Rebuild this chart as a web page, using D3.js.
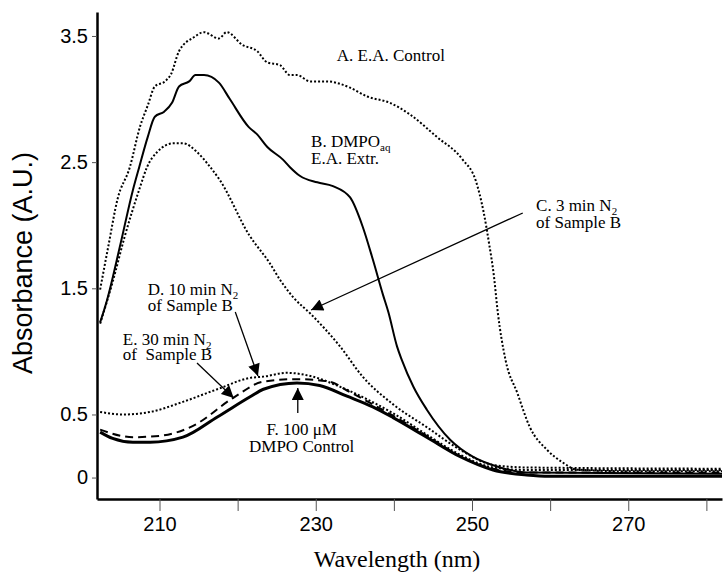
<!DOCTYPE html>
<html><head><meta charset="utf-8">
<script src="https://cdn.jsdelivr.net/npm/d3@7"></script>
<style>body{margin:0;background:#fff} svg{display:block}</style>
</head><body>
<svg id="chart" width="727" height="577"></svg>
<script>
// ---------- data ----------
const xTickLabels = [210, 230, 250, 270];
const yTickLabels = [0, 0.5, 1.5, 2.5, 3.5];

const curveA_nm  = [202.4,203.5,204.6,206.2,207.5,208.5,209.4,210.7,211.5,212.5,214.4,215.7,217.6,218.6,220.6,222.5,223.8,225.4,226.7,227.6,229.3,231.4,234.4,236.6,239.5,242,245.5,248.8,250.5,251.5,252.2,252.8,253.3,254.3,255.8,257.4,259.6,261.6,263.4,270,282];
const curveA_abs = [1.49,1.85,2.2,2.46,2.78,2.95,3.10,3.14,3.2,3.38,3.49,3.53,3.48,3.53,3.43,3.38,3.29,3.27,3.19,3.19,3.14,3.14,3.09,3.02,2.97,2.88,2.70,2.52,2.35,2.1,1.85,1.6,1.31,0.93,0.67,0.40,0.22,0.12,0.063,0.05,0.05];

const curveB_nm  = [202.4,203.3,205,206.6,207.4,208.5,209.4,210.6,211.6,212.5,213.8,214.6,215.7,217.6,219,221.4,222.5,223.8,225.8,226.7,228,230.2,232.2,234.4,236,237.3,238.6,239.3,240.4,241,242.5,244.2,247.2,250.1,253.6,257,282];
const curveB_abs = [1.23,1.41,1.85,2.28,2.46,2.7,2.86,2.90,2.97,3.10,3.14,3.19,3.19,3.13,3.0,2.78,2.72,2.62,2.52,2.46,2.39,2.34,2.31,2.22,1.99,1.73,1.45,1.31,1.04,0.935,0.72,0.54,0.30,0.165,0.08,0.04,0.03];

const curveC_nm  = [202.4,204,205.5,207.5,208.4,209.7,211.8,213,214.8,216.5,217.7,221.5,224.1,225.4,227.1,229.3,233.1,236,239.9,244.2,248.5,252.7,257,282];
const curveC_abs = [1.22,1.55,1.9,2.3,2.46,2.58,2.65,2.65,2.58,2.46,2.36,1.92,1.70,1.57,1.43,1.30,1.04,0.80,0.58,0.40,0.22,0.10,0.08,0.07];

const curveD_nm  = [202.4,205.3,208.8,213,217.4,221.6,223.3,226.3,229.6,233.1,236.9,239.9,244.2,248.5,252.7,257,282];
const curveD_abs = [0.52,0.50,0.52,0.60,0.70,0.79,0.80,0.83,0.80,0.72,0.61,0.51,0.34,0.18,0.08,0.06,0.06];

const curveE_nm  = [202.4,206.6,210,214.3,219.4,223.3,227.6,231.8,234,237.3,239.9,244.2,248.5,252.7,257,282];
const curveE_abs = [0.38,0.32,0.33,0.41,0.63,0.76,0.78,0.76,0.69,0.58,0.49,0.33,0.17,0.07,0.04,0.04];

const curveF_nm  = [202.4,204,206.6,208.8,213,217.4,221.6,223.3,227.6,230.5,234,237.3,239.9,244.2,248.5,252.7,257,260,282];
const curveF_abs = [0.36,0.31,0.28,0.28,0.32,0.48,0.64,0.70,0.75,0.73,0.645,0.56,0.475,0.32,0.165,0.06,0.02,0.01,0.01];

// annotation anchors (data coordinates: wavelength, absorbance)
const arrowTails = [[256.5,2.097],[219.7,1.312],[214.8,0.908],[227.7,0.512]];
const arrowTips  = [[229.4,1.328],[222.6,0.805],[219.5,0.631],[227.7,0.71]];

// ---------- chart ----------
const svg = d3.select("#chart");
const x = d3.scaleLinear().domain([202, 282]).range([97, 722]);
const y = d3.scaleLinear().domain([-0.17, 3.69]).range([499, 12]);

const sans = "'Liberation Sans', Arial, sans-serif";
const serif = "'Liberation Serif', 'Times New Roman', serif";

// x axis
const gx = svg.append("g").attr("transform", "translate(0,499)");
gx.call(d3.axisBottom(x).tickValues(d3.range(202, 283, 2)).tickSize(6).tickSizeOuter(0).tickFormat(""));
gx.call(d3.axisBottom(x).tickValues(d3.range(210, 281, 10)).tickSize(12).tickSizeOuter(0).tickPadding(6)
  .tickFormat(d => xTickLabels.includes(d) ? d : ""));
gx.selectAll(".domain").attr("stroke-width", 2.5);
gx.selectAll(".tick line").attr("stroke", "#555");
gx.selectAll("text").attr("font-family", sans).attr("font-size", 20).attr("fill", "#000");

// y axis
const gy = svg.append("g").attr("transform", "translate(97,0)");
gy.call(d3.axisLeft(y).tickValues(d3.range(0, 3.6, 0.25)).tickSize(5).tickSizeOuter(0).tickFormat(""));
gy.call(d3.axisLeft(y).tickValues(yTickLabels).tickSize(5).tickSizeOuter(0).tickPadding(4)
  .tickFormat(d => d === 0 ? "0" : d3.format(".1f")(d)));
gy.selectAll(".domain").attr("stroke-width", 2.5);
gy.selectAll(".tick line").attr("stroke", "#555");
gy.selectAll("text").attr("font-family", sans).attr("font-size", 20).attr("fill", "#000");

// axis titles
svg.append("text").attr("transform", "translate(32,263) rotate(-90)")
  .attr("text-anchor", "middle").attr("font-family", sans).attr("font-size", 27).text("Absorbance (A.U.)");
svg.append("text").attr("x", 397).attr("y", 567).attr("text-anchor", "middle")
  .attr("font-family", serif).attr("font-size", 24).text("Wavelength (nm)");

// curves
const series = [
  {nm: curveA_nm, abs: curveA_abs, width: 2, dash: "2,2"},
  {nm: curveB_nm, abs: curveB_abs, width: 2, dash: null},
  {nm: curveC_nm, abs: curveC_abs, width: 2, dash: "2,2"},
  {nm: curveD_nm, abs: curveD_abs, width: 2, dash: "2,2"},
  {nm: curveE_nm, abs: curveE_abs, width: 2, dash: "8,5"},
  {nm: curveF_nm, abs: curveF_abs, width: 3, dash: null}
];
const line = d3.line().x(d => x(d[0])).y(d => y(d[1])).curve(d3.curveMonotoneX);
series.forEach(s => {
  svg.append("path").datum(d3.zip(s.nm, s.abs)).attr("d", line)
    .attr("fill", "none").attr("stroke", "#000").attr("stroke-width", s.width)
    .attr("stroke-dasharray", s.dash);
});

// arrows
svg.append("defs").append("marker").attr("id", "ah").attr("viewBox", "0 0 10 10")
  .attr("refX", 10).attr("refY", 5).attr("markerUnits", "userSpaceOnUse")
  .attr("markerWidth", 16).attr("markerHeight", 12).attr("orient", "auto")
  .append("path").attr("d", "M0,0L10,5L0,10Z").attr("fill", "#000");
arrowTails.forEach((t, i) => {
  const p = arrowTips[i];
  svg.append("line").attr("x1", x(t[0])).attr("y1", y(t[1])).attr("x2", x(p[0])).attr("y2", y(p[1]))
    .attr("stroke", "#000").attr("stroke-width", 1.3).attr("marker-end", "url(#ah)");
});

// labels
function label(nm, ab, text, sub, anchor) {
  const t = svg.append("text").attr("x", x(nm)).attr("y", y(ab))
    .attr("font-family", serif).attr("font-size", 17).attr("text-anchor", anchor || "start")
    .style("white-space", "pre");
  t.append("tspan").text(text);
  if (sub) t.append("tspan").attr("font-size", 11).attr("dy", 4).text(sub);
  return t;
}
label(232.7, 3.30, "A. E.A. Control");
label(229.4, 2.62, "B. DMPO", "aq");
label(229.4, 2.485, "E.A. Extr.");
label(258.2, 2.113, "C. 3 min N", "2");
label(258.2, 1.978, "of Sample B");
label(208.5, 1.447, "D. 10 min N", "2");
label(208.5, 1.32, "of Sample B");
label(205.3, 1.05, "E. 30 min N", "2");
label(205.3, 0.932, "of  Sample B");
label(228.2, 0.337, "F. 100 \u03BCM", null, "middle");
label(228.2, 0.2025, "DMPO Control", null, "middle");
</script>
</body></html>
